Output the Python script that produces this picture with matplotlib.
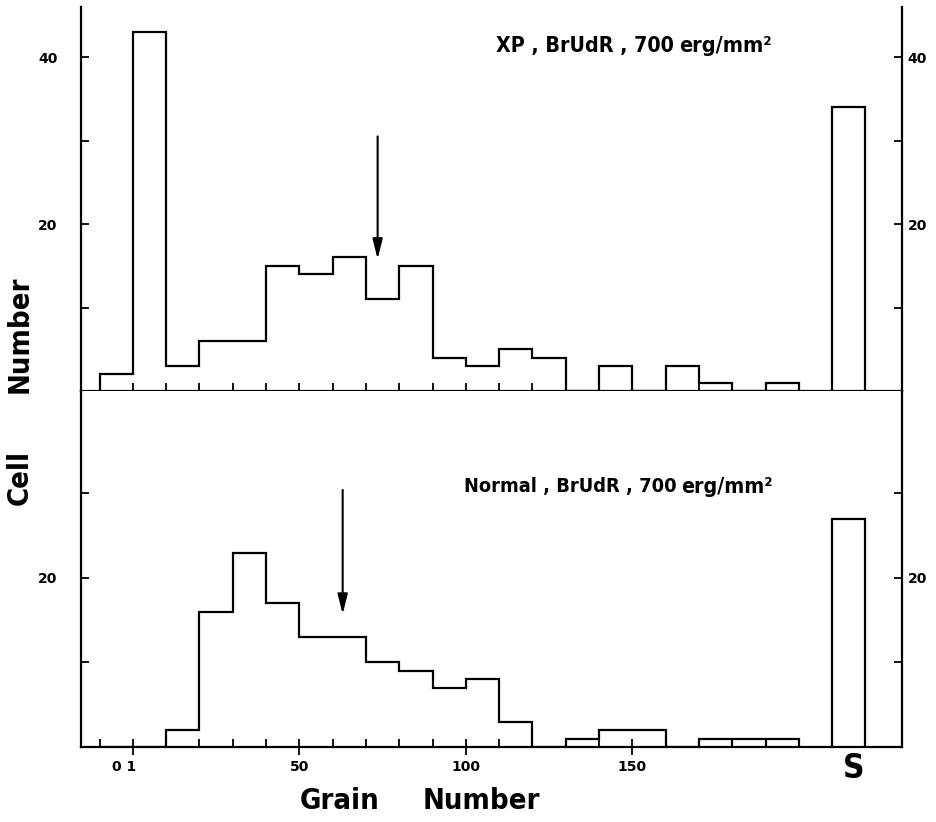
import matplotlib
matplotlib.use("Agg")
import matplotlib.pyplot as plt
import matplotlib.transforms as mtransforms
import numpy as np

# bins de 10 granos, de -10 a 200
bin_edges = np.arange(-10, 210, 10)
xp_counts = [2, 43, 3, 6, 6, 15, 14, 16, 11, 15, 4, 3, 5, 4, 0, 3, 0, 3, 1, 0, 1]
normal_counts = [0, 0, 2, 16, 23, 17, 13, 13, 10, 9, 7, 8, 3, 0, 1, 2, 2, 0, 1, 1, 1]
s_edges = [210, 220]
xp_s = 34
normal_s = 27
xp_arrow = 73.5
normal_arrow = 63
x_labels = ["0 1", "50", "100", "150"]
x_label_pos = [0, 50, 100, 150]

fam = ["DejaVu Sans"]
lw = 1.6

fig = plt.figure(figsize=(9.37, 8.22), dpi=100)
ax1 = fig.add_axes([0.0864, 0.5243, 0.8763, 0.4672])
ax2 = fig.add_axes([0.0864, 0.0912, 0.8763, 0.4331])
left_shift = mtransforms.ScaledTranslation(-13 / 72, 0, fig.dpi_scale_trans)


def style(ax, ytop):
    ax.set_xlim(-15.6, 231)
    ax.set_ylim(0, ytop)
    ax.spines["top"].set_visible(False)
    for s in ["left", "right", "bottom"]:
        ax.spines[s].set_linewidth(lw)
    ax.set_xticks(x_label_pos)
    ax.set_xticks(np.arange(-10, 210, 10), minor=True)
    ax.tick_params(axis="x", which="major", direction="inout", length=11, width=1.3)
    ax.tick_params(axis="x", which="minor", direction="in", length=6, width=1.3)
    ax.tick_params(axis="y", which="both", direction="in", left=True, right=True,
                   labelleft=True, labelright=True, length=6, width=1.3, pad=4)
    for t in ax.yaxis.get_major_ticks():
        for lab in (t.label1, t.label2):
            lab.set_fontweight("bold")
            lab.set_fontsize(10)
        t.label1.set_transform(t.label1.get_transform() + left_shift)


def arrow(ax, x, y0, y1):
    ax.annotate("", xy=(x, y1), xytext=(x, y0),
                arrowprops=dict(arrowstyle="-|>,head_length=1.2,head_width=0.3",
                                color="black", lw=1.5, shrinkA=0, shrinkB=0))


# panel superior: XP
ax1.stairs(xp_counts, bin_edges, baseline=0, color="black", lw=lw)
ax1.stairs([xp_s], s_edges, baseline=0, color="black", lw=lw)
ax1.set_yticks([20, 40])
ax1.set_yticks([10, 30], minor=True)
style(ax1, 46)
ax1.set_xticklabels([])
arrow(ax1, xp_arrow, 30.5, 15.8)
ax1.text(109, 41.3, "XP , BrUdR , 700", fontsize=15.3, fontweight="bold",
         family=fam, fontstretch="condensed", va="center", ha="left")
ax1.text(164, 41.3, "erg/mm²", fontsize=15.5, fontweight="bold",
         family=fam, fontstretch="condensed", va="center", ha="left")

# panel inferior: Normal
ax2.stairs(normal_counts, bin_edges, baseline=0, color="black", lw=lw)
ax2.stairs([normal_s], s_edges, baseline=0, color="black", lw=lw)
# divisiones entre las cajas sueltas (170-200)
ax2.vlines(bin_edges[19:21], 0, normal_counts[19:21], color="black", lw=lw)
ax2.set_yticks([20])
ax2.set_yticks([10, 30], minor=True)
style(ax2, 42.1)
ax2.set_xticklabels(x_labels, fontsize=10, fontweight="bold")
shift = mtransforms.ScaledTranslation(-6 / 72, 0, fig.dpi_scale_trans)
first = ax2.get_xticklabels()[0]
first.set_transform(first.get_transform() + shift)
arrow(ax2, normal_arrow, 30.4, 15.7)
ax2.text(99.5, 30.8, "Normal , BrUdR , 700", fontsize=14.3, fontweight="bold",
         family=fam, fontstretch="condensed", va="center", ha="left")
ax2.text(164.5, 30.8, "erg/mm²", fontsize=15.3, fontweight="bold",
         family=fam, fontstretch="condensed", va="center", ha="left")
ax2.text(216.5, -0.6, "S", fontsize=24, fontweight="bold", family=fam,
         fontstretch="condensed", ha="center", va="top")

# etiquetas de ejes
fig.text(340 / 937, 0.026, "Grain", fontsize=21, fontweight="bold",
         family=fam, fontstretch="condensed", ha="center", va="center")
fig.text(481 / 937, 0.026, "Number", fontsize=21, fontweight="bold",
         family=fam, fontstretch="condensed", ha="center", va="center")
fig.text(20 / 937, 1 - 334 / 822, "Number", fontsize=21, fontweight="bold",
         family=fam, fontstretch="condensed", ha="center", va="center", rotation=90)
fig.text(20 / 937, 1 - 477 / 822, "Cell", fontsize=21, fontweight="bold",
         family=fam, fontstretch="condensed", ha="center", va="center", rotation=90)

fig.savefig("out.png", dpi=100)
